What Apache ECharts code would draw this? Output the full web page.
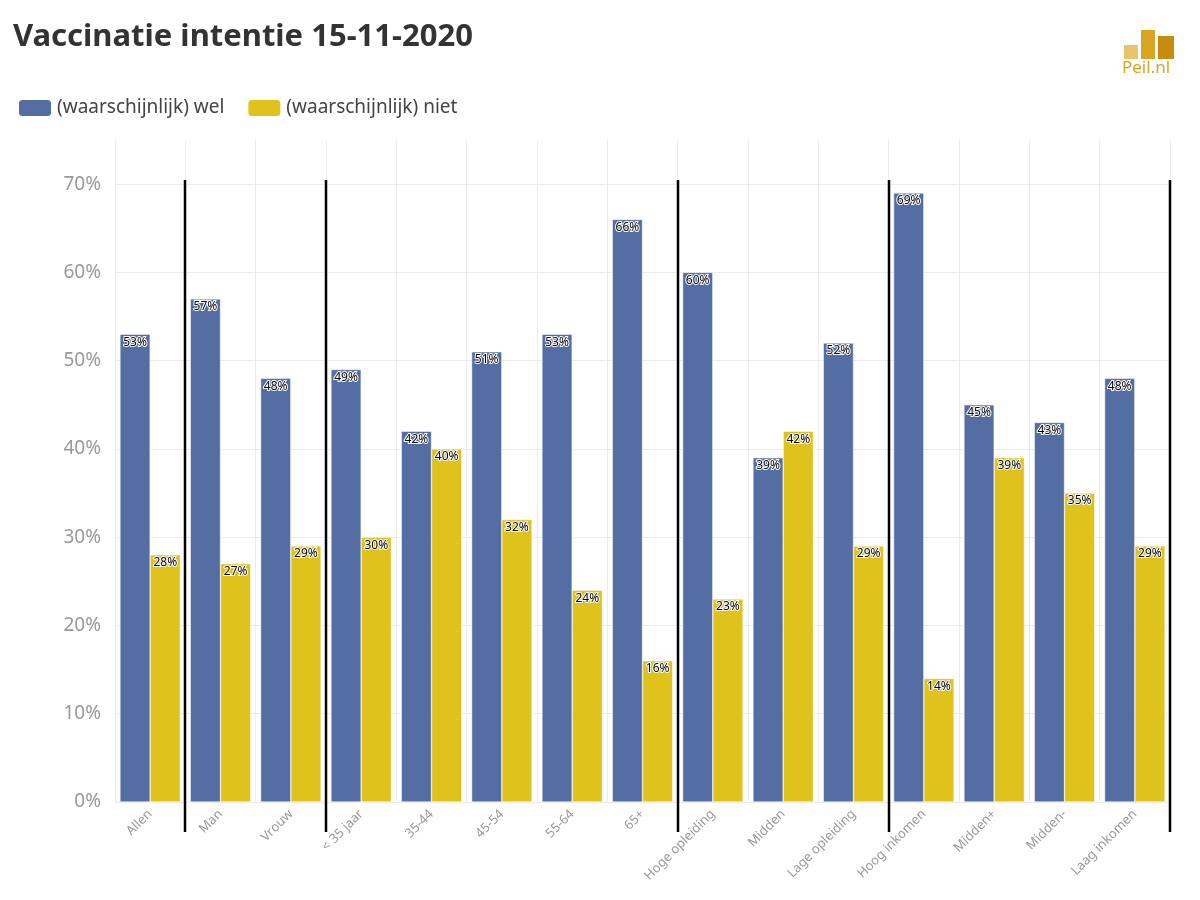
<!DOCTYPE html>
<html><head><meta charset="utf-8">
<script src="https://cdn.jsdelivr.net/npm/echarts@6/dist/echarts.min.js"></script>
<style>html,body{margin:0;padding:0;background:#fff}#c{width:1200px;height:900px}</style>
</head><body><div id="c"></div>
<script>
const categories = ['Allen','Man','Vrouw','< 35 jaar','35-44','45-54','55-64','65+','Hoge opleiding','Midden','Lage opleiding','Hoog inkomen','Midden+','Midden-','Laag inkomen'];
const wel = [53,57,48,49,42,51,53,66,60,39,52,69,45,43,48];
const niet = [28,27,29,30,40,32,24,16,23,42,29,14,39,35,29];
const separatorsAfter = [0,2,7,10,14];
const yTicks = [0,10,20,30,40,50,60,70];

const chart = echarts.init(document.getElementById('c'));
const lbl = {show:true,position:'insideTop',distance:2,formatter:'{c}%',color:'#000',fontSize:12,
  fontFamily:'Noto Sans',textBorderColor:'#fff',textBorderWidth:2};
chart.setOption({
  animation:false,
  title:{text:'Vaccinatie intentie 15-11-2020',left:8,top:17,textStyle:{fontSize:31,fontWeight:'bold',color:'#333',fontFamily:'Noto Sans'}},
  legend:{left:12,top:93,itemWidth:34,itemHeight:18,itemGap:22,icon:'roundRect',
    textStyle:{fontSize:19,color:'#444',fontFamily:'Noto Sans'}},
  grid:{left:115,right:30,top:140,bottom:98,containLabel:false},
  xAxis:{type:'category',data:categories,axisTick:{show:false},axisLine:{show:false},
    splitLine:{show:true,lineStyle:{color:'#ebebeb'}},
    axisLabel:{rotate:45,color:'#999',fontSize:13,fontFamily:'Noto Sans',interval:0,margin:10}},
  yAxis:{type:'value',min:0,max:75,interval:10,
    axisLabel:{formatter:v=>yTicks.includes(v)?v+'%':'',color:'#999',fontSize:19,fontFamily:'Noto Sans',margin:14},
    splitLine:{showMaxLine:false,lineStyle:{color:'#ebebeb'}},axisLine:{show:false},axisTick:{show:false}},
  series:[
    {name:'(waarschijnlijk) wel',type:'bar',data:wel,barGap:'0%',barCategoryGap:'14%',
     itemStyle:{color:'#546ea3',borderColor:'#fff',borderWidth:0.5},label:lbl},
    {name:'(waarschijnlijk) niet',type:'bar',data:niet,
     itemStyle:{color:'#e0c21c',borderColor:'#fff',borderWidth:0.5},label:lbl}
  ]
});
const g = [];
const gr = chart.getModel().getComponent('grid').coordinateSystem.getRect();
const step = gr.width/categories.length;
separatorsAfter.forEach(i=>{
  const x = Math.round(gr.x + (i+1)*step);
  g.push({type:'line',shape:{x1:x,y1:180,x2:x,y2:832},style:{stroke:'#000',lineWidth:2.5}});
});
g.push({type:'rect',shape:{x:1124,y:45,width:14,height:14},style:{fill:'#e8c56a'}});
g.push({type:'rect',shape:{x:1141,y:30,width:14,height:29},style:{fill:'#d9a520'}});
g.push({type:'rect',shape:{x:1158,y:36,width:16,height:23},style:{fill:'#c98a10'}});
g.push({type:'text',style:{x:1122,y:60,text:'Peil.nl',fill:'#d9a520',fontSize:17,fontFamily:'Noto Sans'}});
chart.setOption({graphic:g});
</script></body></html>
